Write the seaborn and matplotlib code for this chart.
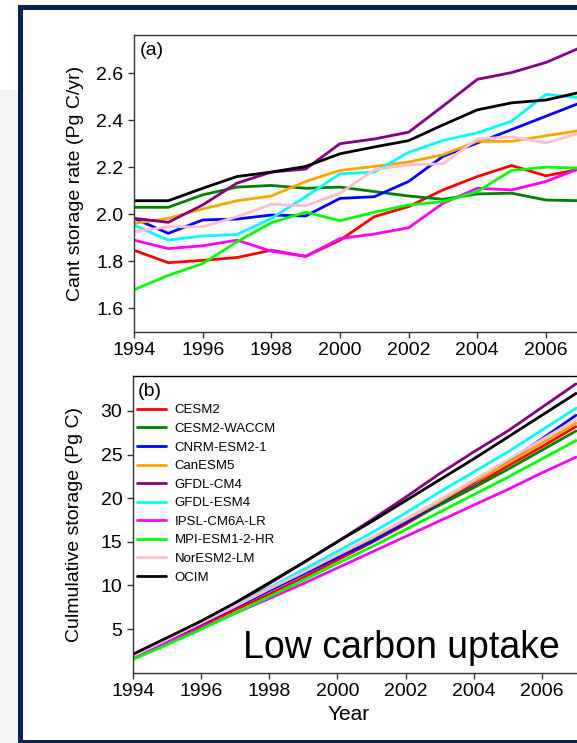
import matplotlib.pyplot as plt
import matplotlib.patches as mpatches
import numpy as np
import pandas as pd
import seaborn as sns

years = list(range(1994, 2008))
models = ["CESM2", "CESM2-WACCM", "CNRM-ESM2-1", "CanESM5", "GFDL-CM4",
          "GFDL-ESM4", "IPSL-CM6A-LR", "MPI-ESM1-2-HR", "NorESM2-LM", "OCIM"]
colors = ["red", "green", "blue", "orange", "purple",
          "cyan", "magenta", "lime", "pink", "black"]

# (a) Cant storage rate (Pg C/yr)
rate_cesm2 = [1.847, 1.794, 1.804, 1.816, 1.847, 1.821, 1.89, 1.99, 2.033, 2.104, 2.161, 2.208, 2.164, 2.193]
rate_cesm2_waccm = [2.03, 2.03, 2.083, 2.116, 2.123, 2.111, 2.116, 2.097, 2.078, 2.064, 2.087, 2.09, 2.061, 2.058]
rate_cnrm = [1.983, 1.919, 1.976, 1.98, 1.997, 1.993, 2.068, 2.075, 2.14, 2.247, 2.304, 2.361, 2.418, 2.475]
rate_canesm5 = [1.961, 1.983, 2.023, 2.058, 2.078, 2.14, 2.187, 2.204, 2.223, 2.254, 2.311, 2.311, 2.335, 2.357]
rate_gfdl_cm4 = [1.983, 1.966, 2.04, 2.133, 2.18, 2.193, 2.301, 2.321, 2.35, 2.461, 2.575, 2.604, 2.647, 2.71]
rate_gfdl_esm4 = [1.954, 1.89, 1.908, 1.914, 1.983, 2.075, 2.173, 2.18, 2.264, 2.315, 2.347, 2.397, 2.511, 2.497]
rate_ipsl = [1.89, 1.854, 1.866, 1.89, 1.843, 1.821, 1.897, 1.916, 1.943, 2.047, 2.111, 2.104, 2.14, 2.197]
rate_mpi = [1.679, 1.74, 1.79, 1.883, 1.964, 2.009, 1.973, 2.009, 2.04, 2.054, 2.097, 2.187, 2.201, 2.197]
rate_noresm = [1.926, 1.947, 1.947, 1.99, 2.043, 2.036, 2.09, 2.19, 2.211, 2.215, 2.321, 2.33, 2.304, 2.347]
rate_ocim = [2.058, 2.058, 2.111, 2.161, 2.18, 2.204, 2.258, 2.287, 2.314, 2.381, 2.445, 2.475, 2.487, 2.52]

# (b) cumulative storage (Pg C)
cum_cesm2 = [1.8, 3.6, 5.4, 7.2, 9.0, 10.9, 12.9, 14.9, 17.0, 19.3, 21.4, 23.7, 25.9, 28.2]
cum_cesm2_waccm = [1.9, 3.8, 5.7, 7.6, 9.5, 11.4, 13.3, 15.2, 17.2, 19.2, 21.2, 23.3, 25.5, 27.7]
cum_cnrm = [1.9, 3.75, 5.6, 7.5, 9.4, 11.3, 13.2, 15.0, 17.2, 19.5, 21.8, 24.2, 26.8, 29.5]
cum_canesm5 = [1.95, 3.9, 5.9, 7.8, 9.7, 11.6, 13.5, 15.4, 17.5, 19.6, 21.9, 24.0, 26.3, 28.6]
cum_gfdl_cm4 = [2.0, 3.9, 5.8, 7.9, 10.2, 12.6, 15.0, 17.5, 20.1, 22.8, 25.3, 27.7, 30.4, 33.1]
cum_gfdl_esm4 = [1.9, 3.8, 5.7, 7.7, 9.7, 11.8, 13.9, 16.0, 18.3, 20.7, 23.0, 25.3, 27.8, 30.3]
cum_ipsl = [1.7, 3.4, 5.1, 6.8, 8.5, 10.2, 12.0, 13.8, 15.6, 17.4, 19.2, 21.0, 22.9, 24.7]
cum_mpi = [1.5, 3.2, 4.95, 6.8, 8.7, 10.6, 12.5, 14.4, 16.4, 18.4, 20.4, 22.4, 24.5, 26.6]
cum_noresm = [1.9, 3.8, 5.7, 7.6, 9.6, 11.5, 13.5, 15.5, 17.6, 19.8, 22.1, 24.4, 26.7, 29.0]
cum_ocim = [2.1, 4.0, 5.9, 8.0, 10.3, 12.6, 15.0, 17.3, 19.7, 22.1, 24.5, 27.0, 29.5, 32.0]

rates = [rate_cesm2, rate_cesm2_waccm, rate_cnrm, rate_canesm5, rate_gfdl_cm4,
         rate_gfdl_esm4, rate_ipsl, rate_mpi, rate_noresm, rate_ocim]
cums = [cum_cesm2, cum_cesm2_waccm, cum_cnrm, cum_canesm5, cum_gfdl_cm4,
        cum_gfdl_esm4, cum_ipsl, cum_mpi, cum_noresm, cum_ocim]


def long_df(series):
    rows = []
    for m, vals in zip(models, series):
        for y, v in zip(years, vals):
            rows.append({"Year": y, "Model": m, "value": v})
    return pd.DataFrame(rows)


sns.set_style("ticks")
plt.rcParams["font.family"] = ["Liberation Sans", "DejaVu Sans"]
plt.rcParams["text.color"] = "black"
plt.rcParams["axes.labelcolor"] = "black"
plt.rcParams["axes.edgecolor"] = "#333333"
plt.rcParams["xtick.color"] = "#333333"
plt.rcParams["ytick.color"] = "#333333"
plt.rcParams["xtick.labelcolor"] = "black"
plt.rcParams["ytick.labelcolor"] = "black"

W, H = 577, 743
fig = plt.figure(figsize=(W / 100, H / 100), dpi=100)
fig.patch.set_facecolor("white")

# screenshot frame: grey strip and navy border
fig.patches.append(mpatches.Rectangle((0, 0), 18 / W, (H - 90) / H, transform=fig.transFigure,
                                      facecolor="#f3f4f6", edgecolor="none", zorder=0))
navy = "#0c2358"
fig.patches.append(mpatches.Rectangle((18 / W, 0), 5 / W, (H - 5) / H, transform=fig.transFigure,
                                      facecolor=navy, edgecolor="none", zorder=5))
fig.patches.append(mpatches.Rectangle((18 / W, (H - 9.5) / H), 1 - 18 / W, 4.5 / H, transform=fig.transFigure,
                                      facecolor=navy, edgecolor="none", zorder=5))
fig.patches.append(mpatches.Rectangle((18 / W, 0), 1 - 18 / W, 3.5 / H, transform=fig.transFigure,
                                      facecolor=navy, edgecolor="none", zorder=5))

palette = dict(zip(models, colors))

# panel (a)
pxa = 34.33
ax1 = fig.add_axes([134 / W, 1 - 331.7 / H, 14 * pxa / W, (331.7 - 35) / H])
sns.lineplot(data=long_df(rates), x="Year", y="value", hue="Model", hue_order=models,
             palette=palette, linewidth=2, ax=ax1, legend=False)
ax1.set_xlim(1994, 2008)
ax1.set_ylim(1.5, 2.764)
ax1.set_yticks([1.6, 1.8, 2.0, 2.2, 2.4, 2.6])
ax1.set_yticklabels(["1.6", "1.8", "2.0", "2.2", "2.4", "2.6"])
ax1.set_ylabel("Cant storage rate (Pg C/yr)", fontsize=14)
ax1.yaxis.set_label_coords(-0.105, 0.5)
ax1.set_xlabel("")
ax1.text(0.012, 0.975, "(a)", transform=ax1.transAxes, fontsize=14, va="top", ha="left")

# panel (b)
pxb = 34.1
ax2 = fig.add_axes([132.7 / W, 1 - 672.7 / H, 14 * pxb / W, (672.7 - 376) / H])
sns.lineplot(data=long_df(cums), x="Year", y="value", hue="Model", hue_order=models,
             palette=palette, linewidth=2, ax=ax2)
ax2.set_xlim(1994, 2008)
ax2.set_ylim(0, 34)
ax2.set_yticks([5, 10, 15, 20, 25, 30])
ax2.set_ylabel("Culmulative storage (Pg C)", fontsize=14)
ax2.yaxis.set_label_coords(-0.105, 0.5)
ax2.set_xlabel("Year", fontsize=15)
ax2.xaxis.set_label_coords(0.453, -0.11)
ax2.text(0.01, 0.975, "(b)", transform=ax2.transAxes, fontsize=14, va="top", ha="left")
ax2.legend(loc="upper left", bbox_to_anchor=(0.008, 0.905), frameon=False, fontsize=9.5,
           handlelength=2.2, handletextpad=0.7, labelspacing=0.48, borderpad=0, borderaxespad=0)
fig.text(243 / W, 1 - 658 / H, "Low carbon uptake", fontsize=27, ha="left", va="baseline")

for ax in (ax1, ax2):
    ax.set_xticks(list(range(1994, 2008, 2)))
    ax.tick_params(direction="out", length=4, width=1, labelsize=14)
    for s in ax.spines.values():
        s.set_linewidth(1)
    ax.spines["right"].set_visible(False)
ax2.spines["top"].set_color("black")

fig.savefig("out.png", dpi=100)
